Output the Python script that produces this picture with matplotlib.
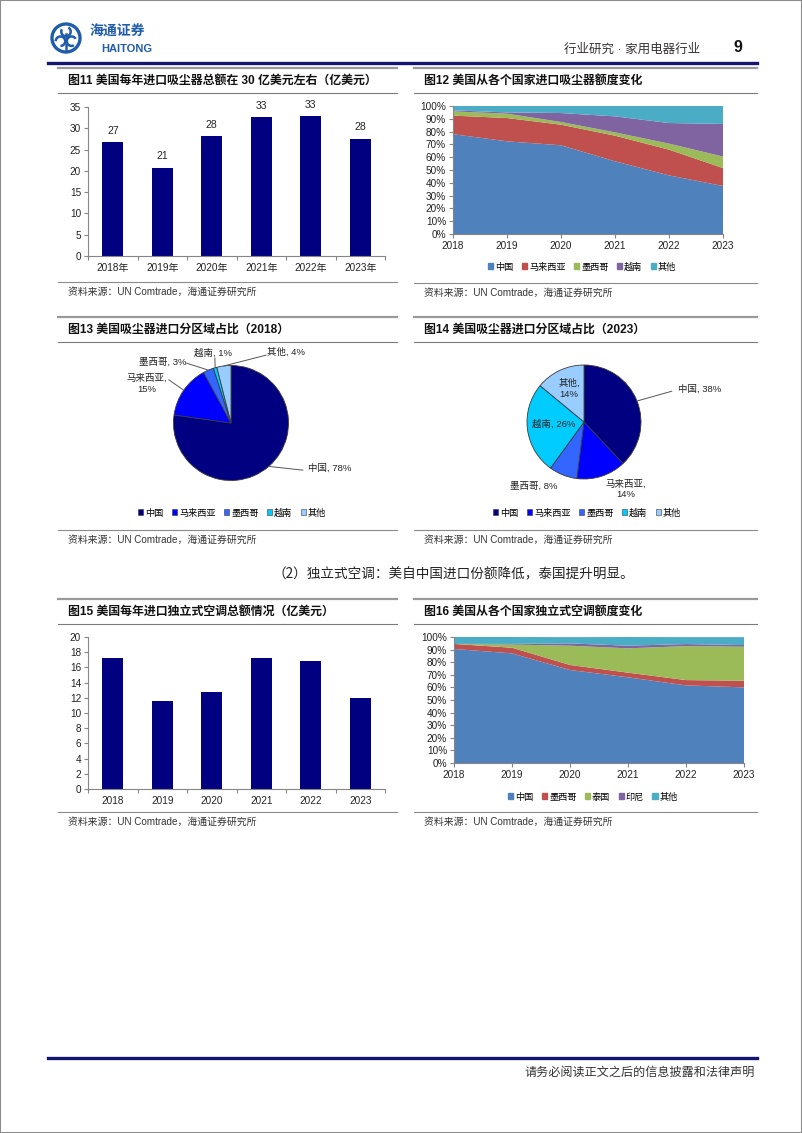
import numpy as np
import matplotlib
matplotlib.use("Agg")
import matplotlib.pyplot as plt
from matplotlib.patches import Patch, Circle, Rectangle, Arc
from matplotlib.lines import Line2D

W, H = 802, 1133

# 图11 美国每年进口吸尘器总额（亿美元）
VAC_YEARS = ["2018年", "2019年", "2020年", "2021年", "2022年", "2023年"]
VAC_TOTAL = [26.8, 20.7, 28.1, 32.6, 32.8, 27.6]
VAC_TOTAL_LABELS = ["27", "21", "28", "33", "33", "28"]

# 图12 吸尘器进口来源占比（%）
AREA_YEARS = [2018, 2019, 2020, 2021, 2022, 2023]
VAC_NAMES = ["中国", "马来西亚", "墨西哥", "越南", "其他"]
VAC_CN = [78.0, 72.4, 69.3, 56.8, 45.8, 37.5]
VAC_MY = [14.5, 18.2, 16.1, 20.0, 20.1, 14.0]
VAC_MX = [3.3, 3.4, 2.1, 2.6, 4.7, 9.0]
VAC_VN = [0.8, 1.0, 7.0, 12.5, 16.1, 25.5]
VAC_OT = [3.4, 5.0, 5.5, 8.1, 13.3, 14.0]

# 图13 / 图14 吸尘器进口分区域占比
PIE_2018 = [78, 15, 3, 1, 4]
PIE_2023 = [38, 14, 8, 26, 14]

# 图15 美国每年进口独立式空调总额（亿美元）
AC_YEARS = ["2018", "2019", "2020", "2021", "2022", "2023"]
AC_TOTAL = [17.3, 11.6, 12.8, 17.3, 16.9, 12.0]

# 图16 独立式空调进口来源占比（%）
AC_NAMES = ["中国", "墨西哥", "泰国", "印尼", "其他"]
AC_CN = [90.5, 87.0, 73.8, 68.0, 61.6, 60.0]
AC_MX = [4.0, 4.5, 4.0, 3.7, 4.2, 5.3]
AC_TH = [0.0, 2.5, 15.3, 19.3, 27.0, 27.0]
AC_ID = [0.0, 0.5, 1.8, 2.1, 1.6, 1.3]
AC_OT = [5.5, 5.5, 5.0, 6.9, 5.5, 6.3]

NAVY = "#000080"
AREA_COLORS = ["#4F81BD", "#C0504D", "#9BBB59", "#8064A2", "#4BACC6"]
PIE_COLORS = ["#000080", "#0000FF", "#3366FF", "#00CCFF", "#99CCFF"]
HEAD_BLUE = "#14166e"
LOGO_BLUE = "#1f5dab"
SOURCE = "资料来源：UN Comtrade，海通证券研究所"

plt.rcParams["font.family"] = ["Liberation Sans", "Noto Sans CJK SC"]


def fbox(l, t, r, b):
    return [l / W, 1 - b / H, (r - l) / W, (b - t) / H]


def ftext(fig, x, y, s, **kw):
    kw.setdefault("va", "center")
    fig.text(x / W, 1 - y / H, s, **kw)


def hline(fig, x0, x1, y, color, lw):
    fig.add_artist(Line2D([x0 / W, x1 / W], [1 - y / H, 1 - y / H], color=color, lw=lw,
                          transform=fig.transFigure))


def panel_frame(fig, x0, x1, top, title, src_y):
    hline(fig, x0, x1, top, "#9a9a9a", 1.6)
    ftext(fig, x0 + 10, top + 13, title, fontsize=8.6, fontweight="bold", color="#111111")
    hline(fig, x0, x1, top + 25, "#7a7a7a", 0.8)
    hline(fig, x0, x1, src_y, "#8a8a8a", 0.8)
    ftext(fig, x0 + 10, src_y + 10, SOURCE, fontsize=7.1, color="#333333")


def style_axes(ax):
    for s in ("top", "right"):
        ax.spines[s].set_visible(False)
    for s in ("left", "bottom"):
        ax.spines[s].set_color("#868686")
        ax.spines[s].set_linewidth(0.8)
    ax.tick_params(axis="both", labelsize=7.2, colors="#868686", labelcolor="#222222",
                   length=3, width=0.8, pad=2)


def bar_panel(fig, box, cats, vals, ymax, ystep, labels=None):
    ax = fig.add_axes(fbox(*box))
    x = np.arange(len(cats))
    ax.bar(x, vals, width=0.42, color=NAVY)
    ax.set_xlim(-0.5, len(cats) - 0.5)
    ax.set_ylim(0, ymax)
    ax.set_yticks(np.arange(0, ymax + 0.1, ystep))
    ax.set_xticks(x)
    ax.set_xticklabels(cats)
    ax.set_xticks(np.arange(-0.5, len(cats), 1.0), minor=True)
    style_axes(ax)
    ax.tick_params(axis="x", which="major", length=0, pad=5)
    ax.tick_params(axis="x", which="minor", length=3, width=0.8, colors="#868686")
    if labels:
        for xi, v, s in zip(x, vals, labels):
            ax.text(xi, v + 1.5, s, ha="center", va="bottom", fontsize=7.5, color="#222222")
    return ax


def area_panel(fig, box, series, names, legend_xy):
    ax = fig.add_axes(fbox(*box))
    ax.stackplot(AREA_YEARS, *series, colors=AREA_COLORS, lw=0)
    ax.set_xlim(AREA_YEARS[0], AREA_YEARS[-1])
    ax.set_ylim(0, 100)
    ax.set_yticks(np.arange(0, 101, 10))
    ax.set_yticklabels([f"{v}%" for v in range(0, 101, 10)])
    ax.set_xticks(AREA_YEARS)
    style_axes(ax)
    handles = [Patch(color=c) for c in AREA_COLORS]
    fig.legend(handles, names, loc="center", bbox_to_anchor=(legend_xy[0] / W, 1 - legend_xy[1] / H),
               ncol=5, frameon=False, fontsize=6.6, handlelength=0.6, handleheight=0.6,
               handletextpad=0.2, columnspacing=0.9)
    return ax


def pie_panel(fig, center, r, vals, layout, legend_xy):
    cx, cy = center
    ax = fig.add_axes(fbox(cx - r, cy - r, cx + r, cy + r))
    wedges, _ = ax.pie(vals, colors=PIE_COLORS, startangle=90, counterclock=False,
                       wedgeprops=dict(edgecolor="#3a3a3a", linewidth=0.6))
    ax.set_xlim(-1, 1)
    ax.set_ylim(-1, 1)
    for w, name, v, lay in zip(wedges, VAC_NAMES, vals, layout):
        tx, ty, ha, br, lead = lay
        sep = ",\n" if br else ", "
        ax.text(tx, ty, f"{name}{sep}{v}%", ha=ha, va="center", fontsize=6.8,
                color="#222222", linespacing=1.3)
        if lead is not None:
            mid = np.deg2rad((w.theta1 + w.theta2) / 2)
            ax.plot([np.cos(mid), lead[0]], [np.sin(mid), lead[1]], color="#555555",
                    lw=0.7, clip_on=False)
    handles = [Patch(facecolor=c, edgecolor="#3a3a3a", lw=0.4) for c in PIE_COLORS]
    fig.legend(handles, VAC_NAMES, loc="center", bbox_to_anchor=(legend_xy[0] / W, 1 - legend_xy[1] / H),
               ncol=5, frameon=False, fontsize=6.6, handlelength=0.6, handleheight=0.6,
               handletextpad=0.2, columnspacing=0.9)
    return ax


def draw_logo(fig):
    ax = fig.add_axes(fbox(50, 22, 82, 54))
    ax.set_xlim(-1.05, 1.05)
    ax.set_ylim(-1.05, 1.05)
    ax.axis("off")
    ax.add_patch(Circle((0, 0), 0.92, fill=False, ec=LOGO_BLUE, lw=2.4))
    for ang in (90, 210, 330):
        a = np.deg2rad(ang)
        ax.add_patch(Arc((0.42 * np.cos(a), 0.42 * np.sin(a)), 0.62, 0.62, theta1=ang + 60,
                         theta2=ang + 330, ec=LOGO_BLUE, lw=1.8))
    ax.plot([0, 0], [-0.8, 0.25], color=LOGO_BLUE, lw=1.8)
    ftext(fig, 90, 32, "海通证券", fontsize=10, color=LOGO_BLUE, fontweight="bold")
    ftext(fig, 101, 49, "HAITONG", fontsize=8, color=LOGO_BLUE, fontweight="bold")


def main():
    fig = plt.figure(figsize=(W / 100, H / 100), dpi=100)
    fig.add_artist(Rectangle((0, 0), 1, 1, transform=fig.transFigure, fill=False,
                             ec="#8c8c8c", lw=1.5))

    # header
    draw_logo(fig)
    ftext(fig, 700, 50, "行业研究 · 家用电器行业", ha="right", fontsize=9, color="#333333")
    ftext(fig, 738, 48, "9", ha="center", fontsize=11.5, fontweight="bold", color="#111111")
    hline(fig, 48, 757, 63, HEAD_BLUE, 2.4)

    # row 1
    panel_frame(fig, 58, 397, 68, "图11 美国每年进口吸尘器总额在 30 亿美元左右（亿美元）", 282)
    bar_panel(fig, (88, 107, 385, 256), VAC_YEARS, VAC_TOTAL, 35, 5, VAC_TOTAL_LABELS)
    panel_frame(fig, 414, 757, 68, "图12 美国从各个国家进口吸尘器额度变化", 283)
    area_panel(fig, (453, 106, 723, 234), [VAC_CN, VAC_MY, VAC_MX, VAC_VN, VAC_OT],
               VAC_NAMES, (582, 267))

    # row 2: pies
    panel_frame(fig, 58, 397, 317, "图13 美国吸尘器进口分区域占比（2018）", 530)
    lay_2018 = [
        (1.34, -0.78, "left", False, (1.25, -0.82)),
        (-1.46, 0.68, "center", True, (-1.08, 0.75)),
        (-1.19, 1.06, "center", False, (-0.77, 1.04)),
        (-0.32, 1.22, "center", False, (-0.28, 1.13)),
        (0.95, 1.23, "center", False, (0.61, 1.18)),
    ]
    pie_panel(fig, (231, 423), 57.5, PIE_2018, lay_2018, (232, 513))
    panel_frame(fig, 414, 757, 317, "图14 美国吸尘器进口分区域占比（2023）", 530)
    lay_2023 = [
        (1.65, 0.58, "left", False, (1.54, 0.54)),
        (0.74, -1.18, "center", True, None),
        (-0.89, -1.12, "center", False, None),
        (-0.54, -0.04, "center", False, None),
        (-0.26, 0.58, "center", True, None),
    ]
    pie_panel(fig, (584, 422), 57, PIE_2023, lay_2023, (587, 513))

    ftext(fig, 272, 574, "（2）独立式空调：美自中国进口份额降低，泰国提升明显。",
          fontsize=9.8, color="#222222", family=["Noto Sans CJK SC", "DejaVu Sans"])

    # row 3
    panel_frame(fig, 58, 397, 599, "图15 美国每年进口独立式空调总额情况（亿美元）", 812)
    bar_panel(fig, (88, 637, 385, 789), AC_YEARS, AC_TOTAL, 20, 2)
    panel_frame(fig, 414, 757, 599, "图16 美国从各个国家独立式空调额度变化", 812)
    area_panel(fig, (454, 637, 744, 763), [AC_CN, AC_MX, AC_TH, AC_ID, AC_OT],
               AC_NAMES, (593, 797))

    # footer
    hline(fig, 48, 757, 1058, HEAD_BLUE, 2.4)
    ftext(fig, 755, 1073, "请务必阅读正文之后的信息披露和法律声明", ha="right",
          fontsize=8.7, color="#333333")

    fig.savefig("out.png", dpi=100)
    plt.close(fig)


if __name__ == "__main__":
    main()
